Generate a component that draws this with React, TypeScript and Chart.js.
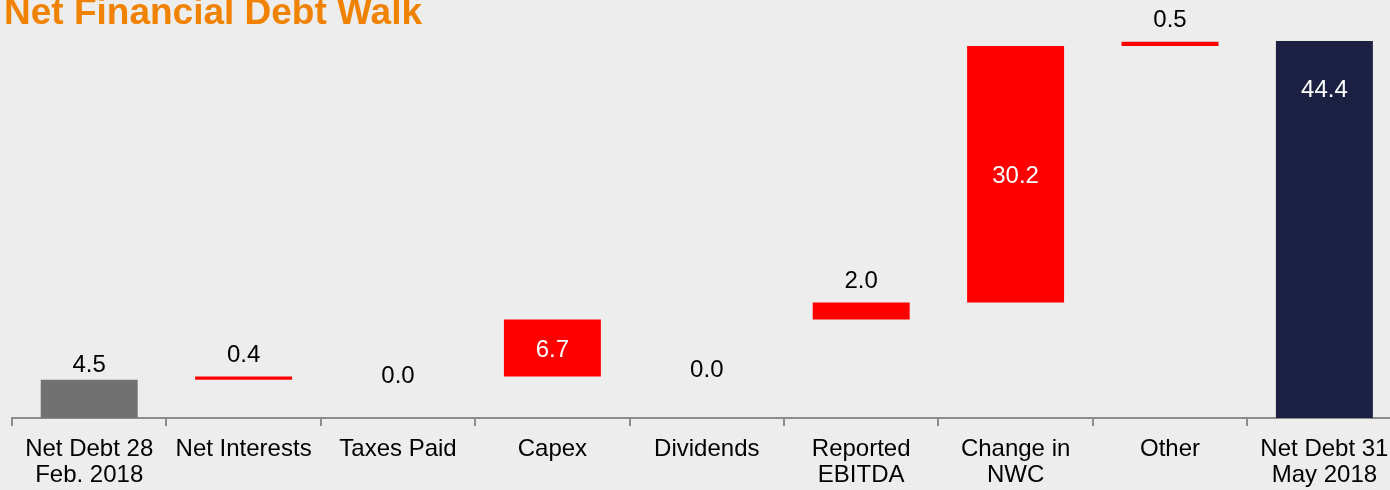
import React, { useEffect, useRef } from "react";
import { Chart, registerables } from "chart.js";

Chart.register(...registerables);

const categories: (string | string[])[] = [
  ["Net Debt 28", "Feb. 2018"],
  "Net Interests",
  "Taxes Paid",
  "Capex",
  "Dividends",
  ["Reported", "EBITDA"],
  ["Change in", "NWC"],
  "Other",
  ["Net Debt 31", "May 2018"],
];
const values = [4.5, 0.4, 0.0, 6.7, 0.0, 2.0, 30.2, 0.5, 44.4];
const kinds = ["total", "delta", "delta", "delta", "delta", "delta", "delta", "delta", "total"];
const valueLabels = values.map((v) => v.toFixed(1));
const yMin = 0;
const yMax = 46;

const TITLE = "Net Financial Debt Walk";
const BG = "#EDEDED";
const FONT = "'Liberation Sans', Arial, sans-serif";

// build floating (waterfall) ranges from the values
let running = 0;
const ranges: [number, number][] = values.map((v, i) => {
  if (kinds[i] === "total") {
    running = v;
    return [0, v];
  }
  const r: [number, number] = [running, running + v];
  running += v;
  return r;
});

const barColors = values.map((v, i) => {
  if (i === 0) return "#717171";
  if (kinds[i] === "total") return "#1C2143";
  return v === 0 ? "rgba(0,0,0,0)" : "#FF0000";
});

// style: pixel lift of the zero-value labels above the axis
const zeroLabelLift: Record<number, number> = { 2: 44, 4: 50 };

const CANVAS_W = 1410;
const CANVAS_H = 498;

const bgPlugin = {
  id: "bg",
  beforeDraw(chart: any) {
    const { ctx, width, height } = chart;
    ctx.save();
    ctx.fillStyle = BG;
    ctx.fillRect(0, 0, width, height);
    ctx.restore();
  },
};

const titlePlugin = {
  id: "customTitle",
  afterDraw(chart: any) {
    const { ctx } = chart;
    ctx.save();
    ctx.font = `bold 37px ${FONT}`;
    ctx.fillStyle = "#F08200";
    ctx.textAlign = "left";
    ctx.textBaseline = "alphabetic";
    ctx.fillText(TITLE, 4, 24);
    ctx.restore();
  },
};

const labelPlugin = {
  id: "valueLabels",
  afterDatasetsDraw(chart: any) {
    const { ctx } = chart;
    const meta = chart.getDatasetMeta(0);
    const yScale = chart.scales.y;
    const baseline = yScale.getPixelForValue(0);
    const size = 24;
    ctx.save();
    ctx.font = `${size}px ${FONT}`;
    ctx.textAlign = "center";
    ctx.textBaseline = "alphabetic";
    meta.data.forEach((bar: any, i: number) => {
      const { x, y, base } = bar.getProps(["x", "y", "base"], true);
      const top = Math.min(y, base);
      const bottom = Math.max(y, base);
      const h = bottom - top;
      let cy: number;
      let color = "#000000";
      if (values[i] === 0) {
        cy = baseline - (zeroLabelLift[i] ?? 44);
      } else if (kinds[i] === "total" && h > 100) {
        cy = top + 47;
        color = "#FFFFFF";
      } else if (h > 40) {
        cy = (top + bottom) / 2;
        color = "#FFFFFF";
      } else if (kinds[i] === "total") {
        cy = top - 16;
      } else {
        cy = top - 23;
      }
      ctx.fillStyle = color;
      ctx.fillText(valueLabels[i], x, cy + 0.358 * size);
    });
    ctx.restore();
  },
};

export default function App() {
  const ref = useRef<HTMLCanvasElement | null>(null);

  useEffect(() => {
    document.body.style.margin = "0";
    document.body.style.background = BG;
    document.body.style.overflow = "hidden";
    document.documentElement.style.overflow = "hidden";
    if (!ref.current) return;
    const chart = new Chart(ref.current, {
      type: "bar",
      data: {
        labels: categories,
        datasets: [
          {
            data: ranges as any,
            backgroundColor: barColors,
            borderWidth: 0,
            borderSkipped: false,
            barPercentage: 0.628,
            categoryPercentage: 1,
          },
        ],
      },
      options: {
        animation: false,
        responsive: false,
        devicePixelRatio: 1,
        layout: { padding: { left: 12, right: 8.4, top: 27.4, bottom: 0 } },
        plugins: {
          legend: { display: false },
          title: { display: false },
          tooltip: { enabled: false },
        },
        scales: {
          x: {
            offset: true,
            grid: {
              display: true,
              offset: true,
              drawOnChartArea: false,
              drawTicks: true,
              tickLength: 8,
              color: "#8C8C8C",
              lineWidth: 2,
            },
            border: { display: true, color: "#8C8C8C", width: 2 },
            ticks: {
              color: "#000000",
              font: { family: FONT, size: 24, lineHeight: 26 / 24 },
              padding: 10,
              maxRotation: 0,
              minRotation: 0,
              autoSkip: false,
            },
          },
          y: {
            display: false,
            min: yMin,
            max: yMax,
            grid: { display: false },
          },
        },
      },
      plugins: [bgPlugin, labelPlugin, titlePlugin],
    });
    return () => chart.destroy();
  }, []);

  return (
    <div style={{ position: "absolute", left: 0, top: 0, width: 1390, height: 490, overflow: "hidden" }}>
      <canvas ref={ref} width={CANVAS_W} height={CANVAS_H} style={{ width: CANVAS_W, height: CANVAS_H, display: "block" }} />
    </div>
  );
}
